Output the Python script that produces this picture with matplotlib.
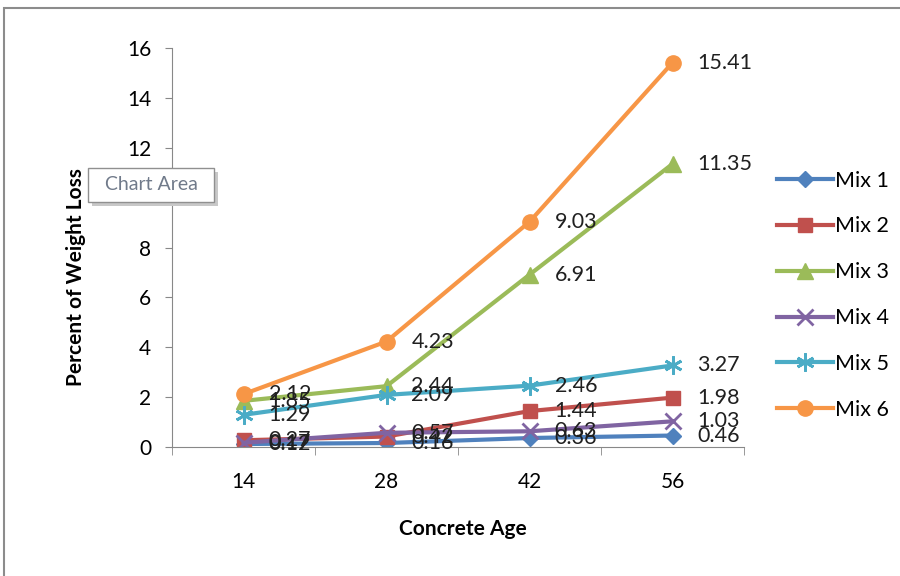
import matplotlib
matplotlib.use("Agg")
import matplotlib.pyplot as plt
from matplotlib.patches import Rectangle

plt.rcParams['font.family'] = ['Lato', 'DejaVu Sans']

ages = ["14", "28", "42", "56"]
mix1 = [0.12, 0.16, 0.36, 0.46]
mix2 = [0.27, 0.42, 1.44, 1.98]
mix3 = [1.85, 2.44, 6.91, 11.35]
mix4 = [0.17, 0.57, 0.63, 1.03]
mix5 = [1.29, 2.09, 2.46, 3.27]
mix6 = [2.12, 4.23, 9.03, 15.41]

series = [
    ("Mix 1", mix1, "#4F81BD", "D", 8),
    ("Mix 2", mix2, "#C0504D", "s", 10),
    ("Mix 3", mix3, "#9BBB59", "^", 11),
    ("Mix 4", mix4, "#8064A2", "x", 11),
    ("Mix 5", mix5, "#4BACC6", (6, 2, 0), 13),
    ("Mix 6", mix6, "#F79646", "o", 11),
]

fig = plt.figure(figsize=(9, 5.76), dpi=100)
ax = fig.add_axes([172 / 900, 1 - 447 / 576, (744 - 172) / 900, (447 - 48) / 576])

x = list(range(len(ages)))
for name, vals, color, marker, ms in series:
    ax.plot(x, vals, color=color, linewidth=3, marker=marker, markersize=ms,
            markeredgewidth=2 if marker in ("x", (6, 2, 0)) else 1,
            markeredgecolor=color, label=name)
    for xi, v in zip(x, vals):
        ax.annotate(f"{v:.2f}", (xi, v), xytext=(18, 0), textcoords="offset points",
                    va="center", ha="left", fontsize=15.5, color="#202020")

ax.set_xlim(-0.5, 3.5)
ax.set_ylim(0, 16)
ax.set_yticks(range(0, 17, 2))
ax.set_xticks(x)
ax.set_xticklabels(ages)
ax.set_xticks([-0.5, 0.5, 1.5, 2.5, 3.5], minor=True)
ax.tick_params(axis="x", which="major", length=0, pad=18, labelsize=15)
ax.tick_params(axis="x", which="minor", length=6, color="#888888")
ax.tick_params(axis="y", length=5, color="#888888", labelsize=15, pad=10)
for s in ("top", "right"):
    ax.spines[s].set_visible(False)
for s in ("left", "bottom"):
    ax.spines[s].set_color("#888888")

ax.set_xlabel("Concrete Age", fontsize=15, fontweight="bold")
ax.xaxis.set_label_coords(0.509, -0.18)
ax.set_ylabel("Percent of Weight Loss", fontsize=15, fontweight="bold")
ax.yaxis.set_label_coords(-0.15, 0.426)

ax.legend(loc="upper left", bbox_to_anchor=(1.035, 0.725), frameon=False,
          fontsize=15.5, handlelength=2.6, handletextpad=0.1, labelspacing=1.2,
          borderaxespad=0.2)

# outer chart border
fig.patches.append(Rectangle((4 / 900, -0.01), 1.0, 1 - 8 / 576 + 0.01,
                             transform=fig.transFigure, fill=False,
                             edgecolor="#8c8c8c", linewidth=1.5))

# "Chart Area" tooltip
fig.patches.append(Rectangle((92 / 900, 1 - 206 / 576), 126 / 900, 34 / 576,
                             transform=fig.transFigure, facecolor="#c8c8c8",
                             edgecolor="none", zorder=5))
fig.patches.append(Rectangle((88 / 900, 1 - 202 / 576), 126 / 900, 34 / 576,
                             transform=fig.transFigure, facecolor="white",
                             edgecolor="#909090", linewidth=1, zorder=6))
fig.text(151 / 900, 1 - 185 / 576, "Chart Area", ha="center", va="center",
         fontsize=14, color="#707a8a", zorder=7)

fig.savefig("out.png", dpi=100)
